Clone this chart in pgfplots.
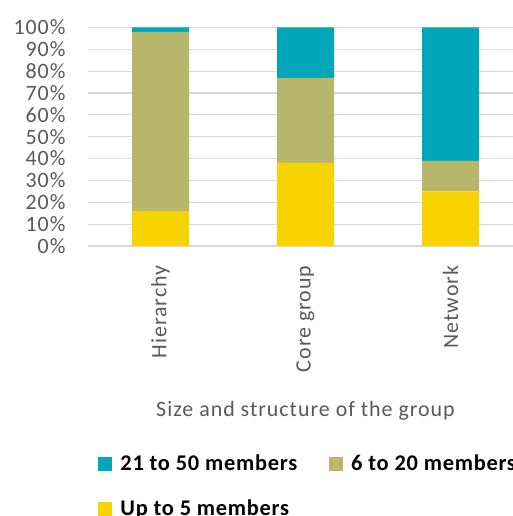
\documentclass[border=0pt]{standalone}
\usepackage{fontspec}
\setmainfont{Carlito}[LetterSpace=4.5]
\newfontfamily\legfont{Carlito}[LetterSpace=3.3]
\usepackage{pgfplots}
\pgfplotsset{compat=1.18}
\definecolor{cteal}{HTML}{00A7B9}
\definecolor{colive}{HTML}{B7B66A}
\definecolor{cyellow}{HTML}{F7D400}
\definecolor{cgrid}{HTML}{D9D9D9}
\definecolor{ctext}{HTML}{595959}
\begin{document}
\fontsize{22}{26}\selectfont
\begin{tikzpicture}
\useasboundingbox (0,0) rectangle (513bp,516bp);
\clip (0,0) rectangle (513bp,516bp);
\begin{axis}[
  at={(88bp,270bp)}, anchor=south west,
  scale only axis, width=435bp, height=218.5bp,
  ybar stacked, bar width=57bp,
  xmin=-0.5, xmax=2.5, ymin=0, ymax=100,
  xtick={0,1,2}, xticklabels={Hierarchy, Core group, Network},
  ytick={0,10,...,100},
  yticklabel={\pgfmathprintnumber{\tick}\%},
  /pgf/number format/assume math mode=true,
  ymajorgrids, grid style={cgrid, line width=1.2bp},
  axis x line*=bottom, axis y line*=left,
  y axis line style={draw=none},
  x axis line style={cgrid, line width=1.2bp, -},
  tick style={draw=none},
  ticklabel style={text=ctext},
  yticklabel shift=15bp,
  xticklabel style={rotate=90, anchor=east},
  xticklabel shift=12bp,
  xlabel={Size and structure of the group},
  xlabel style={at={(axis description cs:0.5,-0.755)}, anchor=center, text=ctext},
  reverse legend,
  legend columns=2,
  legend cell align=left,
  legend image code/.code={\fill[#1] (0bp,-7bp) rectangle (14bp,7bp);},
  legend style={at={(axis description cs:0.0235,-0.945)}, anchor=north west,
    draw=none, fill=none, inner sep=0pt, font=\legfont\bfseries\fontsize{22.5}{26}\selectfont, text=black,
    row sep=22bp,
    /tikz/every odd column/.append style={column sep=6bp},
    /tikz/every even column/.append style={column sep=30bp}},
]
\addplot[fill=cyellow, draw=none] coordinates {(0,16) (1,38) (2,25)};
\addplot[fill=colive, draw=none] coordinates {(0,82) (1,39) (2,14)};
\addplot[fill=cteal, draw=none] coordinates {(0,2) (1,23) (2,61)};
\legend{Up to 5 members, 6 to 20 members, 21 to 50 members}
\draw[cgrid, line width=1.2bp] (axis description cs:0,0) -- (axis description cs:0,-0.81);
\end{axis}
\end{tikzpicture}
\end{document}
